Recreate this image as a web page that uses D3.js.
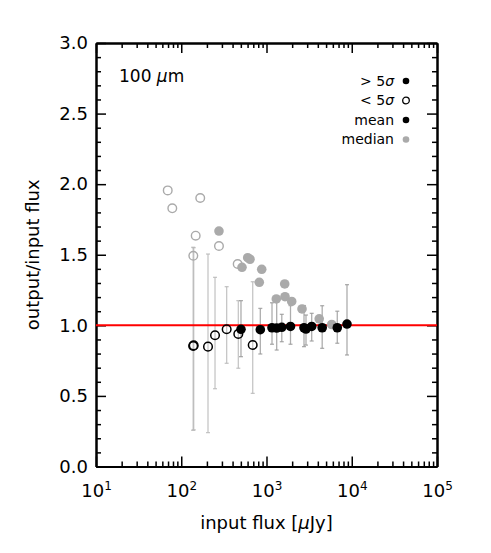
<!DOCTYPE html>
<html>
<head>
<meta charset="utf-8">
<script src="https://cdn.jsdelivr.net/npm/d3@7"></script>
<style>
  body { margin: 0; background: #fff; }
  text { font-family: "DejaVu Sans", sans-serif; }
</style>
</head>
<body>
<script>
// mean output/input ratio per flux bin
var meanFlux  = [138, 140, 206, 249, 341, 467, 502, 689, 846, 1160, 1317, 1511, 1912, 2754, 2906, 3390, 4500, 6765, 8796];
var meanRatio = [0.854, 0.858, 0.849, 0.93, 0.972, 0.939, 0.972, 0.861, 0.969, 0.983, 0.981, 0.986, 0.992, 0.983, 0.974, 0.992, 0.983, 0.983, 1.009];
var meanAbove = [false, false, false, false, false, false, true, false, true, true, true, true, true, true, true, true, true, true, true];
var errLow    = [0.256, 0.26, 0.24, 0.551, 0.731, 0.696, 0.778, 0.518, 0.797, 0.866, 0.825, 0.884, 0.866, 0.849, 0.86, 0.889, 0.837, 0.873, 0.79];
var errHigh   = [1.553, 1.55, 1.505, 1.34, 1.274, 1.175, 1.175, 1.309, 1.12, 1.16, 1.179, 1.078, 1.14, 1.14, 1.073, 1.085, 1.139, 1.10, 1.288];

// median ratio per flux bin
var medFlux  = [69.4, 78.5, 167, 147.7, 138.5, 277, 459, 277, 516, 602, 640, 879, 823, 1635, 1303, 1648, 1975, 2609, 4152, 5820];
var medRatio = [1.956, 1.829, 1.902, 1.635, 1.493, 1.562, 1.434, 1.668, 1.411, 1.479, 1.468, 1.397, 1.305, 1.293, 1.187, 1.203, 1.169, 1.116, 1.046, 1.006];
var medAbove = [false, false, false, false, false, false, false, true, true, true, true, true, true, true, true, true, true, true, true, true];

var xMajor = [10, 100, 1000, 10000, 100000];
var yMajor = [0, 0.5, 1, 1.5, 2, 2.5, 3];
var legendLabels = ["> 5\u03c3", "< 5\u03c3", "mean", "median"];

var width = 491, height = 553;
var plotL = 96, plotR = 437, plotT = 43, plotB = 466.5;

var svg = d3.select("body").append("svg")
  .attr("width", width)
  .attr("height", height);

var x = d3.scaleLog().domain([10, 1e5]).range([plotL, plotR]);
var y = d3.scaleLinear().domain([0, 3]).range([plotB, plotT]);

// minor ticks
var xMinor = [];
xMajor.slice(0, -1).forEach(function(d) {
  for (var k = 2; k < 10; k++) xMinor.push(d * k);
});
var yMinor = d3.range(0, 31).map(function(i) { return i / 10; })
  .filter(function(v) { return yMajor.indexOf(v) < 0; });

function styleAxis(g) {
  g.select(".domain").attr("stroke", "#000").attr("stroke-width", 2);
  g.selectAll(".tick line").attr("stroke", "#000").attr("stroke-width", 1.5);
}

// bottom
svg.append("g").attr("transform", "translate(0," + plotB + ")")
  .call(d3.axisBottom(x).tickValues(xMinor).tickSizeInner(-5).tickSizeOuter(0).tickFormat(""))
  .call(styleAxis);
var xAx = svg.append("g").attr("transform", "translate(0," + plotB + ")")
  .call(d3.axisBottom(x).tickValues(xMajor).tickSizeInner(-10).tickSizeOuter(0).tickPadding(18))
  .call(styleAxis);
xAx.selectAll(".tick text").each(function(d) {
  var t = d3.select(this).text(null)
    .attr("font-size", 18).attr("fill", "#000")
    .attr("font-family", "DejaVu Sans, sans-serif");
  t.append("tspan").text("10");
  t.append("tspan").attr("font-size", 12).attr("dy", "-0.6em").text(Math.round(Math.log10(d)));
});

// top
svg.append("g").attr("transform", "translate(0," + plotT + ")")
  .call(d3.axisTop(x).tickValues(xMinor).tickSizeInner(-5).tickSizeOuter(0).tickFormat(""))
  .call(styleAxis);
svg.append("g").attr("transform", "translate(0," + plotT + ")")
  .call(d3.axisTop(x).tickValues(xMajor).tickSizeInner(-10).tickSizeOuter(0).tickFormat(""))
  .call(styleAxis);

// left
svg.append("g").attr("transform", "translate(" + plotL + ",0)")
  .call(d3.axisLeft(y).tickValues(yMinor).tickSizeInner(-5).tickSizeOuter(0).tickFormat(""))
  .call(styleAxis);
svg.append("g").attr("transform", "translate(" + plotL + ",0)")
  .call(d3.axisLeft(y).tickValues(yMajor).tickSizeInner(-10).tickSizeOuter(0).tickPadding(8).tickFormat(d3.format(".1f")))
  .call(styleAxis)
  .selectAll(".tick text")
    .attr("font-size", 18).attr("fill", "#000")
    .attr("font-family", "DejaVu Sans, sans-serif");

// right
svg.append("g").attr("transform", "translate(" + plotR + ",0)")
  .call(d3.axisRight(y).tickValues(yMinor).tickSizeInner(-5).tickSizeOuter(0).tickFormat(""))
  .call(styleAxis);
svg.append("g").attr("transform", "translate(" + plotR + ",0)")
  .call(d3.axisRight(y).tickValues(yMajor).tickSizeInner(-10).tickSizeOuter(0).tickFormat(""))
  .call(styleAxis);

// error bars
var bins = meanFlux.map(function(f, i) {
  return {flux: f, ratio: meanRatio[i], above: meanAbove[i], lo: errLow[i], hi: errHigh[i]};
});

var bars = svg.append("g").selectAll("g")
  .data(bins)
  .enter()
  .append("g")
    .attr("stroke", function(d) { return d.above ? "#999" : "#b8b8b8"; })
    .attr("stroke-opacity", 0.8)
    .attr("stroke-width", 1.3);
bars.append("line")
  .attr("x1", function(d) { return x(d.flux); })
  .attr("x2", function(d) { return x(d.flux); })
  .attr("y1", function(d) { return y(d.lo); })
  .attr("y2", function(d) { return y(d.hi); });
bars.selectAll(".cap")
  .data(function(d) { return [{f: d.flux, v: d.lo}, {f: d.flux, v: d.hi}]; })
  .enter()
  .append("line")
    .attr("x1", function(d) { return x(d.f) - 2; })
    .attr("x2", function(d) { return x(d.f) + 2; })
    .attr("y1", function(d) { return y(d.v); })
    .attr("y2", function(d) { return y(d.v); });

// unity line
svg.append("line")
  .attr("x1", plotL).attr("x2", plotR)
  .attr("y1", y(1)).attr("y2", y(1))
  .attr("stroke", "#ff0000")
  .attr("stroke-width", 2);

// medians
var meds = medFlux.map(function(f, i) { return {flux: f, ratio: medRatio[i], above: medAbove[i]}; });
svg.append("g").selectAll("circle")
  .data(meds)
  .enter()
  .append("circle")
    .attr("cx", function(d) { return x(d.flux); })
    .attr("cy", function(d) { return y(d.ratio); })
    .attr("r", function(d) { return d.above ? 4.8 : 4.3; })
    .attr("fill", function(d) { return d.above ? "#aaaaaa" : "none"; })
    .attr("stroke", "#aaaaaa")
    .attr("stroke-width", function(d) { return d.above ? 0 : 1.4; });

// means
svg.append("g").selectAll("circle")
  .data(bins)
  .enter()
  .append("circle")
    .attr("cx", function(d) { return x(d.flux); })
    .attr("cy", function(d) { return y(d.ratio); })
    .attr("r", function(d) { return d.above ? 4.8 : 4.3; })
    .attr("fill", function(d) { return d.above ? "#000" : "none"; })
    .attr("stroke", "#000")
    .attr("stroke-width", function(d) { return d.above ? 0 : 1.5; });

// band label
svg.append("text")
  .attr("x", 119).attr("y", 82)
  .attr("font-size", 17)
  .html('100 <tspan font-style="italic">\u03bc</tspan>m');

// legend
var legend = svg.append("g").selectAll("g")
  .data(legendLabels)
  .enter()
  .append("g")
    .attr("transform", function(d, i) { return "translate(0," + (81 + i * 19.5) + ")"; });
legend.append("text")
  .attr("x", 394)
  .attr("dy", "0.35em")
  .attr("text-anchor", "end")
  .attr("font-size", 14)
  .html(function(d, i) {
    return i < 2 ? d.replace("\u03c3", '<tspan font-style="italic">\u03c3</tspan>') : d;
  });
legend.append("circle")
  .attr("cx", 406)
  .attr("r", 3.3)
  .attr("fill", function(d, i) { return i === 1 ? "#fff" : (i === 3 ? "#aaaaaa" : "#000"); })
  .attr("stroke", function(d, i) { return i === 3 ? "#aaaaaa" : "#000"; })
  .attr("stroke-width", function(d, i) { return i === 1 ? 1.3 : 0; });

// axis titles
svg.append("text")
  .attr("x", (plotL + plotR) / 2).attr("y", 529)
  .attr("text-anchor", "middle")
  .attr("font-size", 18)
  .html('input flux [<tspan font-style="italic">\u03bc</tspan>Jy]');

svg.append("text")
  .attr("transform", "translate(39," + ((plotT + plotB) / 2) + ") rotate(-90)")
  .attr("text-anchor", "middle")
  .attr("font-size", 18)
  .text("output/input flux");
</script>
</body>
</html>
